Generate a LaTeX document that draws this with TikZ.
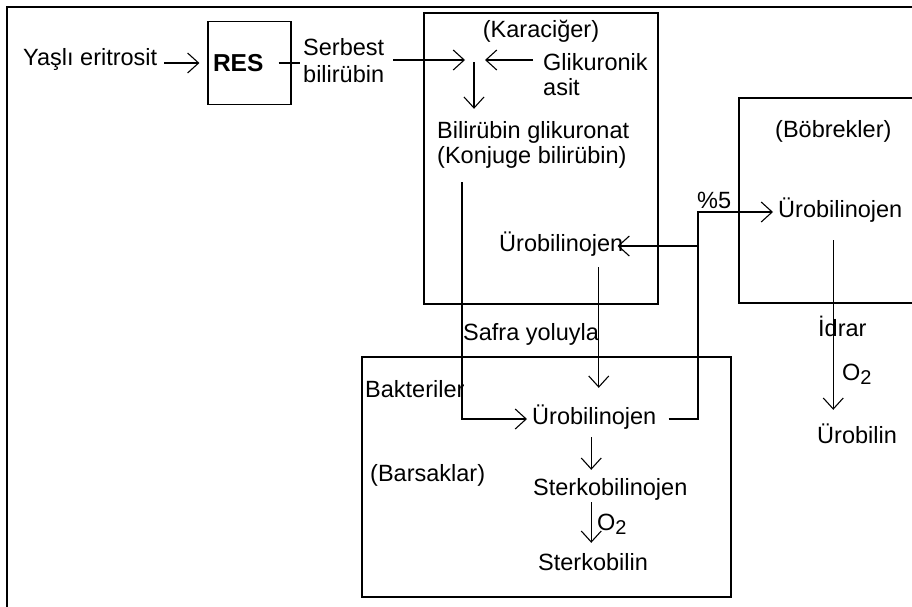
\documentclass[tikz,border=0pt]{standalone}
\usepackage{fontspec}
\setmainfont{Liberation Sans}
\usetikzlibrary{arrows.meta}
\newcommand{\subtwo}{\raisebox{-4pt}{\fontsize{20}{20}\selectfont 2}}
\begin{document}
\begin{tikzpicture}[x=1pt,y=-1pt,
  txt/.style={inner sep=0pt, anchor=base west, font=\fontsize{23.5}{28}\selectfont, text height=16pt, text depth=6pt},
  region/.style={draw, line width=1.2pt, inner sep=0pt},
  conn/.style={line width=1.2pt},
  arr/.style={conn, -{Straight Barb[length=11pt,width=20pt,line width=1.1pt]}},
  frameline/.style={line width=2.8pt}]
\useasboundingbox (0,0) rectangle (912,606);
\clip (0,0) rectangle (912,606);
% outer frame (top and left edges)
\draw[frameline] (7,610) -- (7,7) -- (915,7);
% region boxes
\node[region, minimum width=234pt, minimum height=291pt] (kara) at (541,158.5) {};
\node[region, minimum width=369pt, minimum height=240pt] (barsak) at (546.5,477) {};
\node[region, minimum width=220pt, minimum height=205pt] (bobrek) at (849,200.5) {};
% RES box
\node[draw, line width=1.2pt, minimum width=83pt, minimum height=83pt, inner xsep=5pt, text width=73pt, align=left, font=\bfseries\fontsize{24.5}{28}\selectfont] (res) at (249.5,63) {RES};
% texts
\node[txt] (yasli) at (23,65) {Yaşlı eritrosit};
\node[txt] (serA) at (303,55) {Serbest};
\node[txt] (serB) at (303,82) {bilirübin};
\node[txt, anchor=base] (karalbl) at (541,37) {(Karaciğer)};
\node[txt] (glikA) at (543,70) {Glikuronik};
\node[txt] (glikB) at (543,95) {asit};
\node[txt] (bgA) at (437,138) {Bilirübin glikuronat};
\node[txt] (bgB) at (437,163) {(Konjuge bilirübin)};
\node[txt] (bobreklbl) at (775,137) {(Böbrekler)};
\node[txt] (yuzde) at (697,208) {\%5};
\node[txt] (uro2) at (778,217) {Ürobilinojen};
\node[txt] (uro1) at (499,251) {Ürobilinojen};
\node[txt] (safra) at (463,340) {Safra yoluyla};
\node[txt] (idrar) at (818,336) {İdrar};
\node[txt] (okidney) at (842,380) {O\subtwo};
\node[txt] (urobilin) at (817,443) {Ürobilin};
\node[txt] (bakteri) at (365,397) {Bakteriler};
\node[txt] (uro3) at (532,424) {Ürobilinojen};
\node[txt] (barsaklbl) at (370,481) {(Barsaklar)};
\node[txt] (sterk) at (533,495) {Sterkobilinojen};
\node[txt] (obarsak) at (597,530) {O\subtwo};
\node[txt] (sterkobilin) at (538,570) {Sterkobilin};
% junction coordinates
\coordinate (join) at (474,60);
\coordinate (split) at (698,246);
\coordinate (d1) at ([xshift=4.5pt]uro3.north);
\coordinate (d2) at ([xshift=-7pt]uro2.south);
\coordinate (d3) at ([xshift=-3pt]uro3.south);
% connectors
\draw[arr, shorten <=7pt, shorten >=8pt] (yasli.east |- res.west) -- (res.west);
\draw[conn, shorten >=3pt] ([xshift=-13pt]res.east) -- (res.east -| serA.west);
\draw[arr, shorten <=9pt, shorten >=9pt] (serB.east |- join) -- (join);
\draw[arr, shorten <=10pt, shorten >=11pt] (glikA.west |- join) -- (join);
\draw[arr, shorten <=2pt, shorten >=13pt] (join) -- (join |- bgA.north);
\draw[arr, shorten >=5pt] ([xshift=25pt,yshift=-13pt]bgB.south west) |- (uro3.west);
\draw[arr, shorten <=10pt, shorten >=20pt] (d1 |- uro1.south) -- (d1);
\draw[arr, shorten <=12pt, shorten >=5pt] (uro3.east) -| (split) |- (uro2.west);
\draw[arr, shorten >=-6pt] (split) -- (uro1.east);
\draw[arr, shorten <=17pt, shorten >=17pt] (d2) -- (d2 |- urobilin.north);
\draw[arr, shorten <=7pt, shorten >=9pt] (d3) -- (d3 |- sterk.north);
\draw[arr, shorten <=1pt, shorten >=11pt] (d3 |- sterk.south) -- (d3 |- sterkobilin.north);
\end{tikzpicture}
\end{document}
